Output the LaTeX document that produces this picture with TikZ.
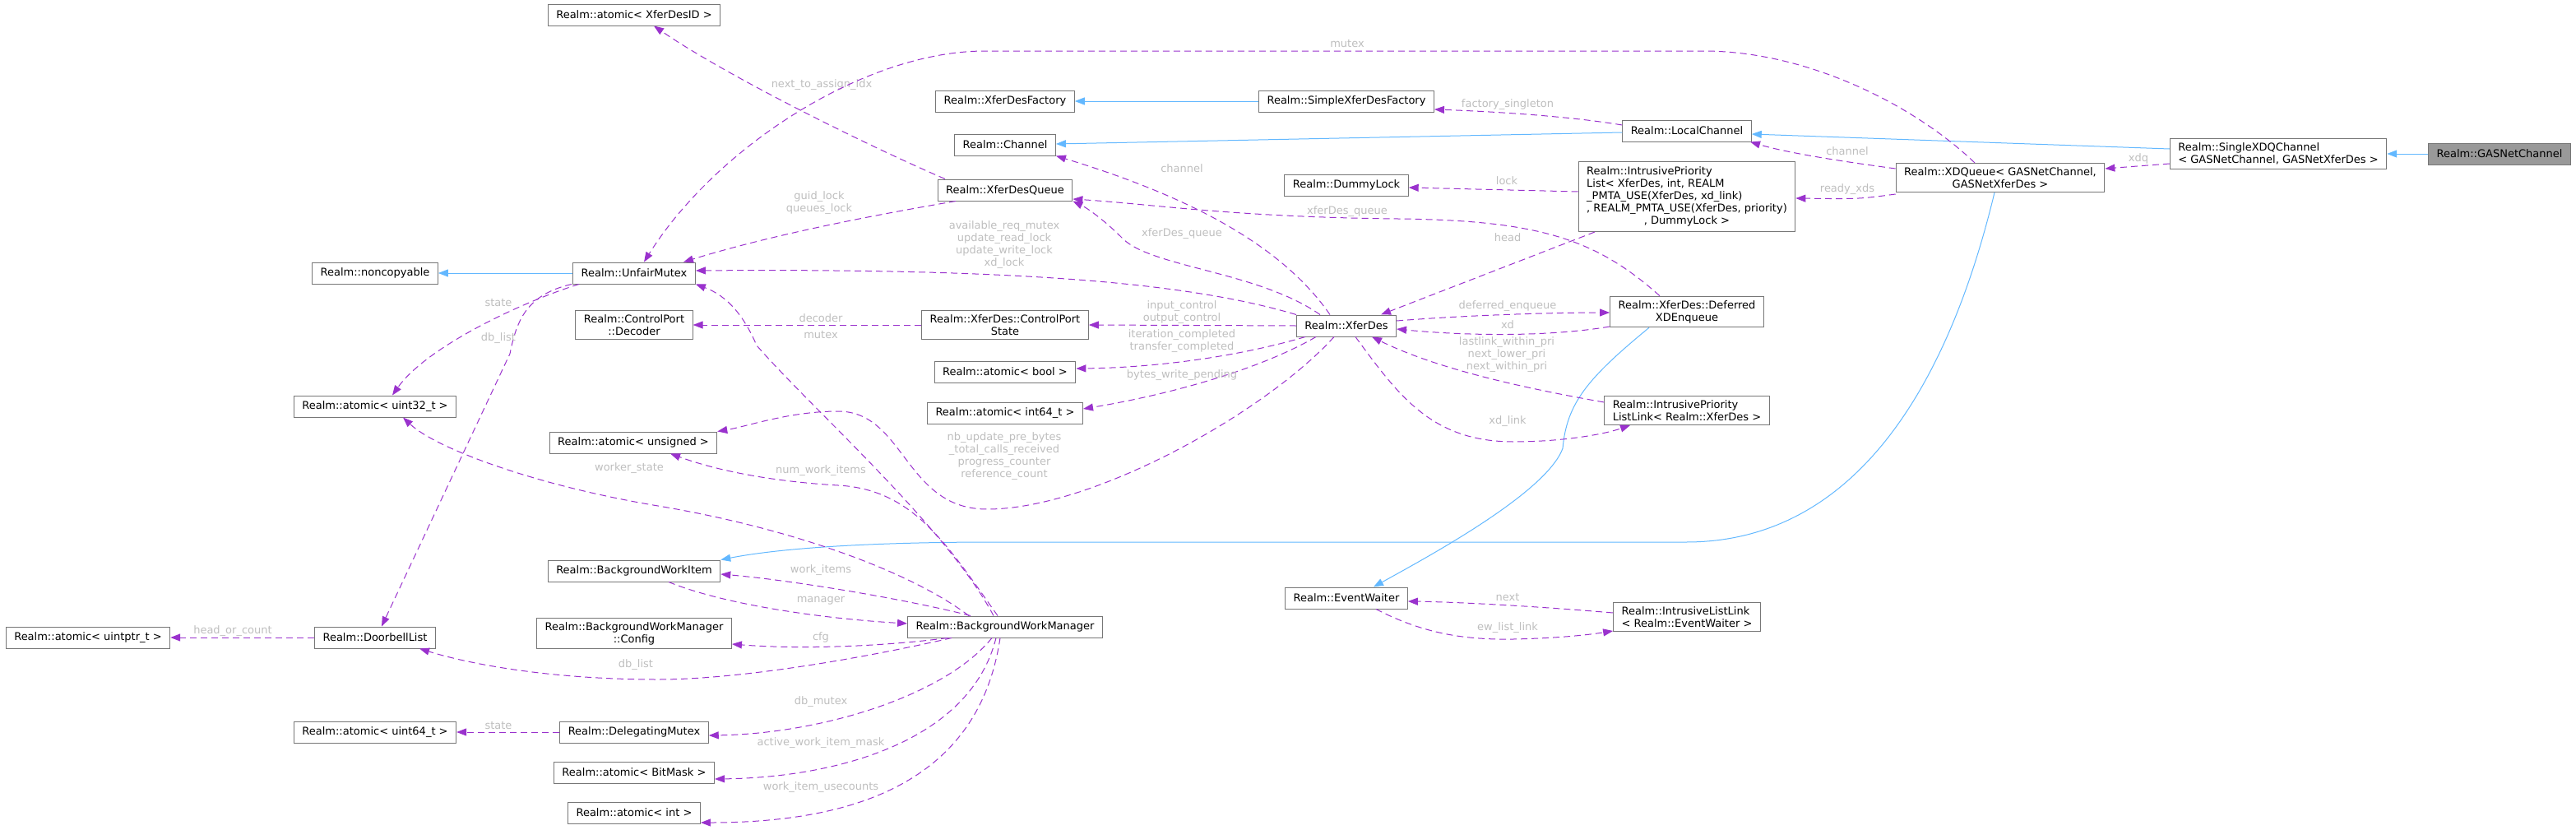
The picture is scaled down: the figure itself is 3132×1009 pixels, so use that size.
\documentclass[tikz,border=0pt]{standalone}
\usepackage{fontspec}
\setmainfont{DejaVu Sans}
\usetikzlibrary{arrows.meta}
\definecolor{edgepurple}{HTML}{9A32CD}
\definecolor{edgeblue}{HTML}{63B8FF}
\definecolor{labelgray}{HTML}{BEBEBE}
\definecolor{boxgray}{HTML}{777777}
\definecolor{rootgray}{HTML}{999999}

\begin{document}
\begin{tikzpicture}[x=1pt, y=-1pt, font=\fontsize{13}{15}\selectfont,
    cls/.style={draw=boxgray, fill=white, line width=1pt,
      inner xsep=10pt, inner ysep=5pt, minimum height=26pt},
    rootcls/.style={cls, fill=rootgray},
    dep/.style={draw=edgepurple, line width=1pt, dash pattern=on 8pt off 5pt,
      -{Triangle[length=12pt, width=9pt]}},
    inh/.style={draw=edgeblue, line width=1pt,
      -{Triangle[length=12pt, width=9pt]}},
    elabel/.style={text=labelgray, align=center, inner sep=0pt}]
  \useasboundingbox (0,0) rectangle (3132,1009);
  % Classes
  \foreach \nm/\x/\y/\txt in {
    xid/771/18/{Realm::atomic< XferDesID >},
    noncp/456/332/{Realm::noncopyable},
    umutex/771/332/{Realm::UnfairMutex},
    au32/456/494/{Realm::atomic< uint32\_t >},
    aunsig/770/538/{Realm::atomic< unsigned >},
    bwi/771/694/{Realm::BackgroundWorkItem},
    dbl/456/775/{Realm::DoorbellList},
    auptr/107/775/{Realm::atomic< uintptr\_t >},
    au64/456/890/{Realm::atomic< uint64\_t >},
    dmutex/771/890/{Realm::DelegatingMutex},
    amask/771/939/{Realm::atomic< BitMask >},
    aint/771/988/{Realm::atomic< int >},
    xdfact/1222/123/{Realm::XferDesFactory},
    chan/1222/176/{Realm::Channel},
    xdqueue/1222/231/{Realm::XferDesQueue},
    abool/1222/452/{Realm::atomic< bool >},
    ai64/1222/502/{Realm::atomic< int64\_t >},
    bwm/1222/762/{Realm::BackgroundWorkManager},
    sxdfact/1637/123/{Realm::SimpleXferDesFactory},
    dlock/1637/225/{Realm::DummyLock},
    xferdes/1637/396/{Realm::XferDes},
    ewaiter/1637/727/{Realm::EventWaiter},
    lchan/2051/159/{Realm::LocalChannel}
  }{
    \node[cls] (\nm) at (\x,\y) {\txt};
  }
  \node[cls, align=center] (decoder) at (771,395) {Realm::ControlPort\\::Decoder};
  \node[cls, align=center] (bwcfg) at (771,770) {Realm::BackgroundWorkManager\\::Config};
  \node[cls, align=center] (cpstate) at (1222,395) {Realm::XferDes::ControlPort\\State};
  \node[cls] (iplist) at (2051,239) {\begin{tabular}{@{}l@{}}Realm::IntrusivePriority\\
    List< XferDes, int, REALM\\\_PMTA\_USE(XferDes, xd\_link)\\
    , REALM\_PMTA\_USE(XferDes, priority)\\
    \multicolumn{1}{@{}c@{}}{, DummyLock >}\end{tabular}};
  \node[cls, align=center] (defq) at (2051,379) {Realm::XferDes::Deferred\\XDEnqueue};
  \node[cls, align=left] (ipllink) at (2051,499) {Realm::IntrusivePriority\\ListLink< Realm::XferDes >};
  \node[cls, align=left] (illink) at (2051,750) {Realm::IntrusiveListLink\\< Realm::EventWaiter >};
  \node[cls, align=center] (xdq) at (2432,216) {Realm::XDQueue< GASNetChannel,\\GASNetXferDes >};
  \node[cls, align=left] (sxdq) at (2770,187) {Realm::SingleXDQChannel\\< GASNetChannel, GASNetXferDes >};
  \node[rootcls] (gasnet) at (3039,187) {Realm::GASNetChannel};

  % Inheritance
  \draw[inh] (umutex.west) -- (noncp.east);
  \draw[inh] (sxdfact.west) -- (xdfact.east);
  \draw[inh] ([yshift=-2pt]lchan.west) -- ([yshift=1pt]chan.east);
  \draw[inh] ([yshift=6pt]sxdq.west) -- ([yshift=-4pt]lchan.east);
  \draw[inh] (gasnet.west) -- (sxdq.east);
  \draw[inh] ([xshift=-7pt]xdq.south) .. controls (2385,400) and (2290,659) .. (2050,659)
    -- (1210,659) .. controls (1040,659) and (940,668) .. (bwi.north east);
  \draw[inh] ([xshift=-46pt]defq.south) .. controls (1930,460) and (1905,490) .. (1900,545)
    .. controls (1880,600) and (1730,680) .. ([xshift=33pt]ewaiter.north);

  % Members
  \draw[dep] ([xshift=-73pt]xdqueue.north) .. controls (1050,175) and (880,90) .. ([xshift=24pt]xid.south)
    node[elabel] at (999,103) {next\_to\_assign\_idx};
  \draw[dep] ([xshift=-31pt]xdq.north) .. controls (2330,130) and (2200,62) .. (2071,62)
    -- (1198,62) .. controls (1050,62) and (870,180) .. ([xshift=12pt]umutex.north)
    node[elabel] at (1638,53) {mutex};
  \draw[dep] ([xshift=-60pt]xdqueue.south) .. controls (1060,262) and (940,285) .. ([xshift=60pt]umutex.north)
    node[elabel] at (996,247) {guid\_lock\\queues\_lock};
  \draw[dep] (xferdes.north west) .. controls (1450,345) and (1250,326) .. ([yshift=3pt]umutex.east)
    node[elabel] at (1221,298) {available\_req\_mutex\\update\_read\_lock\\update\_write\_lock\\xd\_lock};
  \draw[dep] ([xshift=-14pt]bwm.north) .. controls (1150,640) and (990,500) .. (920,420)
    .. controls (905,385) and (885,360) .. (umutex.south east)
    node[elabel] at (998,407) {mutex};
  \draw[dep] ([xshift=-9pt]bwm.north) .. controls (1150,660) and (1110,595) .. (1019,590)
    .. controls (950,586) and (880,575) .. ([xshift=45pt]aunsig.south)
    node[elabel] at (998,572) {num\_work\_items};
  \draw[dep] ([xshift=-20pt]xferdes.north) .. controls (1560,300) and (1450,240) .. (chan.south east)
    node[elabel] at (1437,205) {channel};
  \draw[dep] ([xshift=-32pt]xferdes.north) .. controls (1530,330) and (1400,325) .. (1365,290)
    .. controls (1340,265) and (1320,252) .. (xdqueue.south east)
    node[elabel] at (1437,284) {xferDes\_queue};
  \draw[dep] ([xshift=-33pt]defq.north) .. controls (1940,290) and (1870,268) .. (1700,266)
    .. controls (1500,264) and (1400,248) .. ([yshift=-11pt]xdqueue.east)
    node[elabel] at (1638,257) {xferDes\_queue};
  \draw[dep] ([yshift=6pt]iplist.west) -- ([yshift=-3pt]dlock.east)
    node[elabel] at (1832,220) {lock};
  \draw[dep] ([xshift=-112pt]iplist.south) -- ([xshift=42pt]xferdes.north)
    node[elabel] at (1833,289) {head};
  \draw[dep] ([yshift=-20pt]xdq.west) .. controls (2260,242) .. ([yshift=-2pt]iplist.east)
    node[elabel] at (2246,230) {ready\_xds};
  \draw[dep] ([yshift=11pt]xdq.west) .. controls (2230,195) and (2170,185) .. ([xshift=77pt]lchan.south)
    node[elabel] at (2246,184) {channel};
  \draw[dep] ([yshift=7pt]lchan.west) .. controls (1900,140) and (1800,135) .. ([yshift=-10pt]sxdfact.east)
    node[elabel] at (1833,127) {factory\_singleton};
  \draw[dep] ([yshift=-12pt]sxdq.west) -- ([yshift=11pt]xdq.east)
    node[elabel] at (2600,193) {xdq};
  \draw[dep] (xferdes.west) -- (cpstate.east)
    node[elabel] at (1437,380) {input\_control\\output\_control};
  \draw[dep] (cpstate.west) -- (decoder.east)
    node[elabel] at (998,387) {decoder};
  \draw[dep] ([xshift=-50pt]xferdes.south) .. controls (1500,435) and (1400,447) .. ([yshift=4pt]abool.east)
    node[elabel] at (1437,415) {iteration\_completed\\transfer\_completed};
  \draw[dep] ([xshift=-37pt]xferdes.south) .. controls (1530,450) and (1420,480) .. ([yshift=5pt]ai64.east)
    node[elabel] at (1437,456) {bytes\_write\_pending};
  \draw[dep] ([xshift=-15pt]xferdes.south) .. controls (1540,500) and (1330,619) .. (1200,619)
    .. controls (1100,619) and (1100,500) .. (1019,500)
    .. controls (960,500) and (910,518) .. (aunsig.north east)
    node[elabel] at (1221,555) {nb\_update\_pre\_bytes\\\_total\_calls\_received\\progress\_counter\\reference\_count};
  \draw[dep] ([xshift=-44pt]bwm.north) .. controls (1100,690) and (950,640) .. (800,615)
    .. controls (650,590) and (530,545) .. ([xshift=34pt]au32.south)
    node[elabel] at (765,569) {worker\_state};
  \draw[dep] ([xshift=-42pt]bwm.north) .. controls (1100,728) and (960,705) .. ([yshift=-4pt]bwi.east)
    node[elabel] at (998,693) {work\_items};
  \draw[dep] ([xshift=42pt]bwi.south) .. controls (880,735) and (1000,752) .. ([yshift=4pt]bwm.west)
    node[elabel] at (998,730) {manager};
  \draw[dep] ([xshift=-70pt]bwm.south) .. controls (1080,785) and (980,790) .. ([yshift=-13pt]bwcfg.east)
    node[elabel] at (998,775) {cfg};
  \draw[dep] ([xshift=-65pt]bwm.south) .. controls (1050,800) and (900,826) .. (800,826)
    .. controls (680,826) and (580,810) .. ([xshift=54pt]dbl.south)
    node[elabel] at (773,808) {db\_list};
  \draw[dep] ([xshift=-16pt]bwm.south) .. controls (1150,845) and (1000,892) .. ([yshift=-4pt]dmutex.east)
    node[elabel] at (998,853) {db\_mutex};
  \draw[dep] ([xshift=-11pt]bwm.south) .. controls (1180,900) and (1020,945) .. ([yshift=-8pt]amask.east)
    node[elabel] at (998,903) {active\_work\_item\_mask};
  \draw[dep] ([xshift=-6pt]bwm.south) .. controls (1190,950) and (1040,1000) .. ([yshift=-12pt]aint.east)
    node[elabel] at (998,957) {work\_item\_usecounts};
  \draw[dep] ([yshift=6pt]xferdes.east) .. controls (1800,382) and (1900,380) .. ([yshift=-1pt]defq.west)
    node[elabel] at (1833,372) {deferred\_enqueue};
  \draw[dep] ([yshift=-18pt]defq.west) .. controls (1880,410) and (1780,408) .. ([yshift=-4pt]xferdes.east)
    node[elabel] at (1833,395) {xd};
  \draw[dep] ([yshift=10pt]ipllink.west) .. controls (1860,473) and (1750,450) .. ([xshift=31pt]xferdes.south)
    node[elabel] at (1832,431) {lastlink\_within\_pri\\next\_lower\_pri\\next\_within\_pri};
  \draw[dep] ([xshift=11pt]xferdes.south) .. controls (1700,480) and (1740,537) .. (1840,537)
    .. controls (1900,537) and (1950,528) .. ([xshift=-69pt]ipllink.south)
    node[elabel] at (1833,512) {xd\_link};
  \draw[dep] ([yshift=5pt]illink.west) .. controls (1880,738) and (1780,732) .. ([yshift=-4pt]ewaiter.east)
    node[elabel] at (1833,726) {next};
  \draw[dep] ([xshift=36pt]ewaiter.south) .. controls (1730,770) and (1780,778) .. (1840,777)
    .. controls (1890,776) and (1930,772) .. ([yshift=-17pt]illink.west)
    node[elabel] at (1833,763) {ew\_list\_link};
  \draw[dep] ([xshift=-67pt]umutex.south) .. controls (640,365) and (520,420) .. ([xshift=21pt]au32.north)
    node[elabel] at (606,368) {state};
  \draw[dep] ([xshift=-76pt]umutex.south) .. controls (640,358) and (628,390) .. (620,430)
    -- ([xshift=8pt]dbl.north)
    node[elabel] at (606,411) {db\_list};
  \draw[dep] (dbl.west) -- (auptr.east)
    node[elabel] at (283,767) {head\_or\_count};
  \draw[dep] (dmutex.west) -- (au64.east)
    node[elabel] at (606,882) {state};
\end{tikzpicture}
\end{document}
